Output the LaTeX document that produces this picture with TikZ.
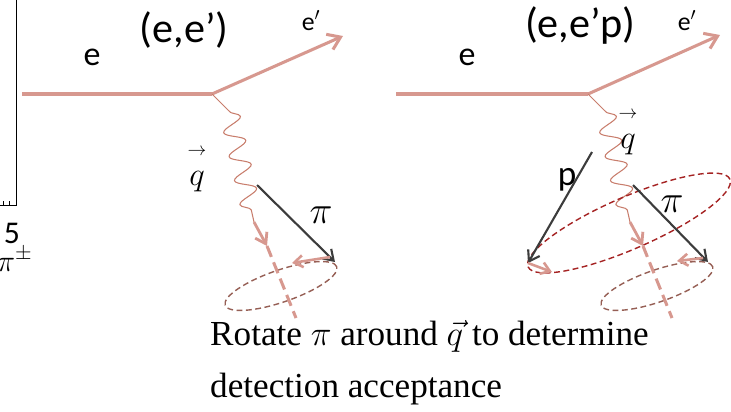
\RequirePackage{fix-cm}
\documentclass[tikz,border=0pt]{standalone}
\usepackage{fontspec}
\setmainfont{Liberation Serif}
\newfontfamily\calib{Carlito}
\usetikzlibrary{arrows.meta,decorations.pathmorphing,shapes.geometric}

\definecolor{beam}{RGB}{215,152,143}
\definecolor{photon}{RGB}{200,125,108}
\definecolor{ringcol}{RGB}{150,95,85}
\definecolor{ringred}{RGB}{165,35,35}
\definecolor{hadron}{RGB}{60,60,60}

\begin{document}
\begin{tikzpicture}[x=0.03cm,y=-0.03cm,
  beamline/.style={beam,line width=2.6pt},
  beamarrow/.style={beam,line width=2.6pt,-{Straight Barb[length=3.6mm,width=5mm]}},
  photonline/.style={photon,line width=0.9pt},
  wiggle/.style={decoration={snake,amplitude=8.5pt,segment length=21pt}},
  fwdarrow/.style={beam,line width=2.4pt,-{Straight Barb[length=3mm,width=4mm]}},
  axisline/.style={beam,line width=2.6pt,dash pattern=on 10pt off 5pt},
  hadronarrow/.style={hadron,line width=1.8pt,-{Straight Barb[length=3mm,width=4mm]}},
  turnarrow/.style={beam,line width=2.2pt,-{Straight Barb[length=2.6mm,width=3.6mm]}},
  ring/.style={ellipse,draw=ringcol,line width=1.2pt,dash pattern=on 5pt off 3pt,inner sep=0,
    minimum width=3.54cm,minimum height=0.96cm,rotate=19},
  bigring/.style={ellipse,draw=ringred,line width=1.2pt,dash pattern=on 5pt off 3pt,inner sep=0,
    minimum width=6.6cm,minimum height=1.56cm,rotate=23.5},
  sanslbl/.style={inner sep=0,anchor=base,font=\calib\fontsize{29}{29}\selectfont},
  titlelbl/.style={sanslbl,font=\calib\fontsize{36}{36}\selectfont},
  smalllbl/.style={sanslbl,font=\calib\fontsize{22}{22}\selectfont},
  mathlbl/.style={inner sep=0,anchor=base,font=\fontsize{33}{33}\selectfont},
  qlbl/.style={inner sep=0,anchor=base,font=\fontsize{28}{28}\selectfont,
    label={[inner sep=0,label distance=13pt,font=\fontsize{16}{16}\selectfont]above:$\rightarrow$}},
  note/.style={inner sep=0,anchor=base west,align=left,font=\fontsize{30}{44}\selectfont}
]
\useasboundingbox (0,0) rectangle (731,411);
\clip (0,0) rectangle (731,411);

% edge of the plot on the left
\draw[line width=0.8pt] (0,205) -- (16,205) -- (16,0);
\draw[line width=0.6pt] (3,205) -- (3,201) (9,205) -- (9,201);
\node[sanslbl,font=\calib\fontsize{27}{27}\selectfont] (five) at (12,243) {5};
\node[inner sep=0,anchor=base west,font=\fontsize{26}{26}\selectfont] (pipm) at (-3,271) {$\pi^{\pm}$};

% (e,e')
\coordinate (E1) at (22,94);
\coordinate (V1) at (212,94);
\coordinate (F1) at (343,36);
\draw[beamline] (E1) -- (V1);
\draw[beamarrow] (V1) -- (F1);
\node[sanslbl] (e1) at (92,65) {e};
\node[titlelbl] (t1) at (184,42) {(e,e’)};
\node[smalllbl] (f1) at (311,30) {e$'$};
\coordinate (W1s) at (229,111);
\coordinate (W1e) at (254,222);
\coordinate (A1) at (267,246);
\coordinate (D1) at (296,318);
\draw[photonline] (V1) -- (W1s) decorate[wiggle] {-- (W1e)};
\draw[fwdarrow] (W1e) -- (A1);
\node[ring] (r1) at (281,286) {};
\draw[axisline] (A1) -- (D1);
\coordinate (Pi1s) at (257,185);
\coordinate (Pi1e) at (335,262);
\draw[hadronarrow] (Pi1s) -- (Pi1e);
\node[mathlbl] (pi1) at (321,223) {$\pi$};
\coordinate (T1s) at (330,257);
\coordinate (T1e) at (292,263);
\draw[turnarrow] (T1s) -- (T1e);
\node[qlbl] (q1) at (197,185) {$q$};

% (e,e'p)
\coordinate (E2) at (396,94);
\coordinate (V2) at (588,94);
\coordinate (F2) at (720,35);
\draw[beamline] (E2) -- (V2);
\draw[beamarrow] (V2) -- (F2);
\node[sanslbl] (e2) at (467,65) {e};
\node[titlelbl] (t2) at (580,37) {(e,e’p)};
\node[smalllbl] (f2) at (687,30) {e$'$};
\coordinate (W2s) at (605,111);
\coordinate (W2e) at (630,222);
\coordinate (A2) at (643,246);
\coordinate (D2) at (672,318);
\draw[photonline] (V2) -- (W2s) decorate[wiggle] {-- (W2e)};
\draw[fwdarrow] (W2e) -- (A2);
\node[ring] (r2) at (657,286) {};
\draw[axisline] (A2) -- (D2);
\node[bigring] (r3) at (629,223) {};
\coordinate (Pi2s) at (633,185);
\coordinate (Pi2e) at (708,262);
\draw[hadronarrow] (Pi2s) -- (Pi2e);
\node[mathlbl] (pi2) at (672,212) {$\pi$};
\coordinate (T2s) at (703,258);
\coordinate (T2e) at (677,261);
\draw[turnarrow] (T2s) -- (T2e);
\coordinate (P2s) at (592,152);
\coordinate (P2e) at (528,263);
\draw[hadronarrow] (P2s) -- (P2e);
\node[sanslbl,font=\calib\fontsize{30}{30}\selectfont] (p2) at (567,185) {p};
\coordinate (U2e) at (552,272);
\draw[turnarrow] (P2e) -- (U2e);
\node[qlbl] (q2) at (628,148) {$q$};

\node[note] (rot) at (210,397) {Rotate $\pi$ around $\vec{q}$ to determine\\detection acceptance};
\end{tikzpicture}
\end{document}
